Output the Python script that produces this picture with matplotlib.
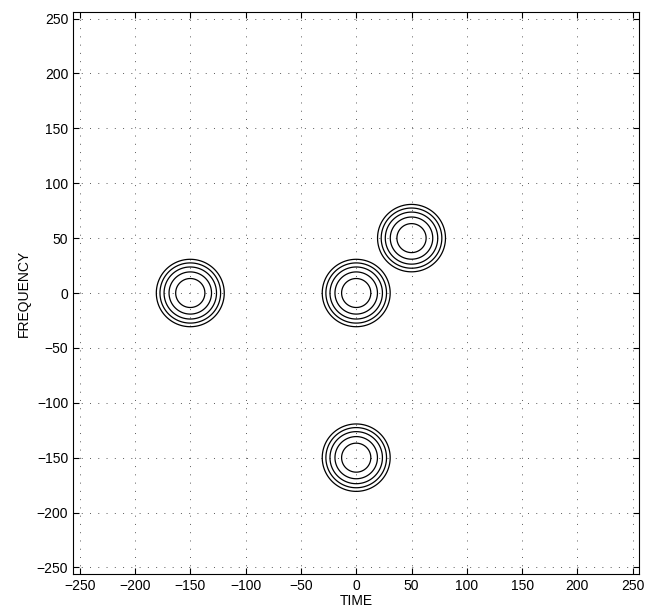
import numpy as np
import matplotlib
matplotlib.use("Agg")
import matplotlib.pyplot as plt

plt.rcParams['font.family'] = ['Liberation Sans', 'DejaVu Sans']

# atom centres (time, frequency)
atom_t = [-150, 0, 50, 0]
atom_f = [0, 0, 50, -150]
# radii of the contour rings around each atom
ring_radii = [30.7, 27.4, 23.7, 19.2, 13.2]
sigma = 20.0

ticks = [-250, -200, -150, -100, -50, 0, 50, 100, 150, 200, 250]

t = np.linspace(-256, 256, 1025)
f = np.linspace(-256, 256, 1025)
T, F = np.meshgrid(t, f)
Z = np.zeros_like(T)
for ct, cf in zip(atom_t, atom_f):
    Z = np.maximum(Z, np.exp(-((T - ct) ** 2 + (F - cf) ** 2) / (2 * sigma ** 2)))

levels = sorted(np.exp(-np.array(ring_radii) ** 2 / (2 * sigma ** 2)))

fig = plt.figure(figsize=(6.48, 6.14), dpi=100)
ax = fig.add_axes([0.1127, 0.0651, 0.874, 0.9154])
ax.contour(T, F, Z, levels=levels, colors='k', linewidths=0.9)

ax.set_xlim(-256, 256)
ax.set_ylim(-256, 256)
ax.set_xticks(ticks)
ax.set_yticks(ticks)
ax.grid(True, linestyle=(0, (1, 7.5)), color='0.35', linewidth=0.7)
ax.tick_params(direction='in', top=True, right=True, labelsize=10, length=4)
for s in ax.spines.values():
    s.set_linewidth(0.8)
ax.set_xlabel('TIME', fontsize=10, labelpad=1)
ax.set_ylabel('FREQUENCY', fontsize=10, labelpad=4)

fig.savefig('out.png', dpi=100)
